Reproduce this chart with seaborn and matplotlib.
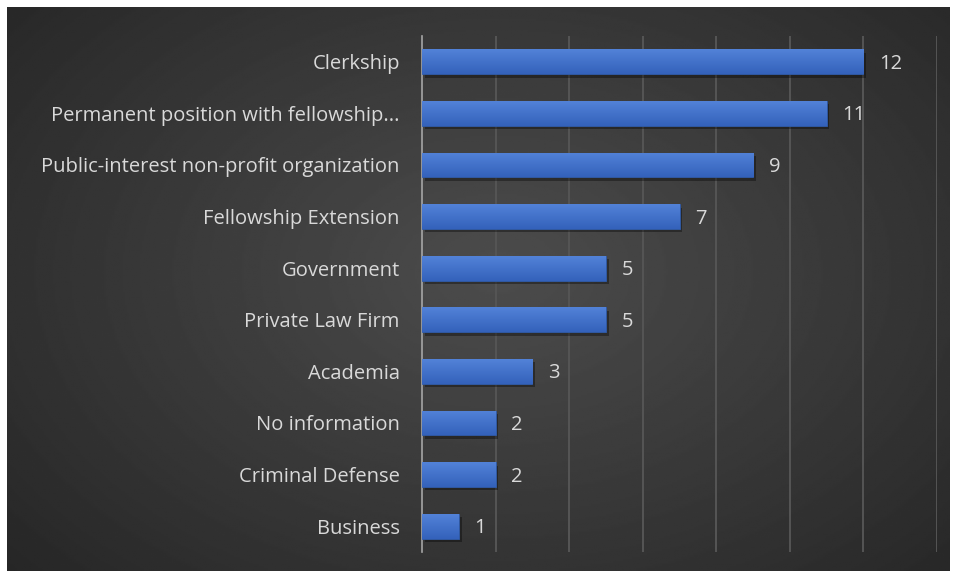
import matplotlib
matplotlib.use("Agg")
import matplotlib.pyplot as plt
import matplotlib.patheffects as pe
import seaborn as sns
import pandas as pd
import numpy as np

# === Data ===
categories = [
    "Clerkship",
    "Permanent position with fellowship...",
    "Public-interest non-profit organization",
    "Fellowship Extension",
    "Government",
    "Private Law Firm",
    "Academia",
    "No information",
    "Criminal Defense",
    "Business",
]
counts = [12, 11, 9, 7, 5, 5, 3, 2, 2, 1]

df = pd.DataFrame({"category": categories, "count": counts})

sns.set_theme(style="dark")
plt.rcParams["font.family"] = ["Open Sans", "DejaVu Sans"]
text_color = "#d9d9d9"

fig = plt.figure(figsize=(9.57, 5.78), dpi=100, facecolor="white")

# === Dark radial background ===
bg = fig.add_axes([7 / 957, 7 / 578, 943 / 957, 564 / 578])
yy, xx = np.mgrid[0:1:300j, 0:1:500j]
r = np.sqrt(((xx - 0.52) / 0.75) ** 2 + ((yy - 0.47) / 0.85) ** 2)
shade = np.clip(0.30 - 0.16 * r, 0.14, 0.30)
bg.imshow(shade, cmap="gray", vmin=0, vmax=1, aspect="auto", extent=[0, 1, 0, 1])
bg.set_axis_off()

# === Bar chart ===
ax = fig.add_axes([422 / 957, 1 - 552 / 578, 515 / 957, 516 / 578])
ax.patch.set_alpha(0)
sns.barplot(data=df, x="count", y="category", color="#4472c4", width=0.48,
            saturation=1, ax=ax, zorder=3)

cmap_bar = matplotlib.colors.LinearSegmentedColormap.from_list("b", ["#5282d8", "#3462bb"])
for bar in ax.patches:
    bar.set_edgecolor("#2f5aa8")
    bar.set_linewidth(0.6)
    bar.set_path_effects([pe.SimplePatchShadow(offset=(2, -2.5), shadow_rgbFace="black", alpha=0.35),
                          pe.Normal()])
    # vertical gradient inside each bar
    x0, y0 = bar.get_x(), bar.get_y()
    w, h = bar.get_width(), bar.get_height()
    grad = np.linspace(0, 1, 50).reshape(-1, 1)
    im = ax.imshow(grad, cmap=cmap_bar, aspect="auto",
                   extent=[x0, x0 + w, y0 + h, y0], zorder=4, origin="upper")
    im.set_clip_path(bar)

for i, v in enumerate(counts):
    ax.text(v + 0.42, i + 0.04, str(v), color=text_color, fontsize=14.5, va="center", ha="left")

ax.set_xlim(0, 14)
ax.set_ylim(len(categories) - 0.5, -0.5)
ax.set_xticks(np.arange(2, 15, 2))
ax.xaxis.grid(True, color="#555555", linewidth=1.4, zorder=0)
ax.yaxis.grid(False)
ax.tick_params(axis="x", length=0, labelbottom=False)
ax.tick_params(axis="y", which="major", length=0, pad=16, labelsize=14.5, labelcolor=text_color)
ax.set_yticks(np.arange(-0.5, len(categories), 1), minor=True)
ax.tick_params(axis="y", which="minor", length=6, width=1.2, color="#a6a6a6", direction="out")
ax.set_xlabel("")
ax.set_ylabel("")
for s in ["top", "right", "bottom"]:
    ax.spines[s].set_visible(False)
ax.spines["left"].set_color("#a6a6a6")
ax.spines["left"].set_linewidth(1.2)

fig.savefig("out.png", dpi=100, facecolor="white")
